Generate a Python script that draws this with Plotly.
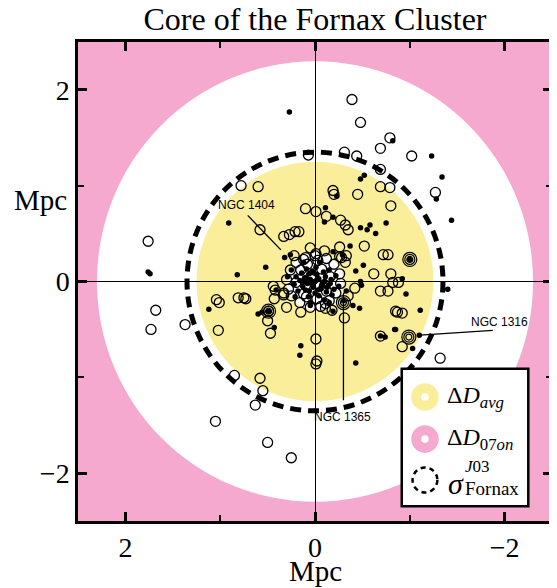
import plotly.graph_objects as go

# ---------------- data (Mpc) ----------------
open_x = [-0.39, -0.48, -0.79, -0.69, -0.31, 0.07, -0.44, -0.45, -0.69, -0.69, -0.79, 0.78, 0.60, -0.19, -0.20,
          -1.02, -1.27, 1.76, 1.68, 1.73, 1.37, 1.04, 1.01, 0.81, 1.02,
          0.10, -0.01, -0.12, -0.27, -0.32, -0.35, -0.80, 0.58, 0.33, 0.27, 0.21, 0.17, -0.26, -0.52, -0.33, -0.26,
          -0.72, -0.77, -0.62, -0.80, -0.01, 0.12, 0.44, 0.42, 0.75, 0.73, 0.43, 0.33, 0.30, 0.49, 0.50, 0.47,
          -0.01, -0.02, -0.31, -0.42, -0.69, -0.77, -0.82, -0.32, -0.11, -0.11, 0.09, -0.85, -0.69,
          -0.88, -0.92, -0.87, -0.92, -1.32, 1.05, 0.85, 0.58, 0.55, 0.63, 0.50, 0.25, -0.01,
          0.0, 0.10, 0.20, 0.26, 0.30, 0.28, 0.25, 0.16, 0.05, -0.06, -0.15, -0.22, -0.27, -0.26, -0.20, -0.12,
          -0.03, 0.08, 0.15, 0.20, 0.12, -0.02, -0.12, -0.16, -0.07, 0.04, 0.10, -0.05, 0.22, -0.28, 0.33, -0.35,
          0.05, -0.18, 0.15, -0.10]
open_y = [1.90, 1.66, 1.50, 1.39, 1.35, 1.32, 1.31, 0.91, 1.17, 0.99, 0.98, 1.00, 0.99, 0.95, 0.91,
          1.31, 0.93, 0.42, -0.30, -0.50, -0.45, -0.19, -0.22, -0.17, -0.51,
          0.76, 0.73, 0.68, 0.64, 0.59, 0.54, 0.79, 0.54, 0.47, 0.49, 0.52, 0.52, 0.36, 0.37, 0.27, 0.26,
          0.28, 0.28, 0.08, 0.08, 0.29, 0.23, -0.05, -0.09, -0.17, -0.18, -0.18, -0.14, -0.27, -0.31, -0.41, -0.54,
          -0.60, -0.83, -0.38, -0.07, -0.10, -0.10, -0.01, 0.20, -0.28, -0.23, -0.16, -0.31, -0.57,
          -0.01, -0.33, -0.32, -0.68, -0.80, -1.46, -0.98, -1.01, -1.14, -1.29, -1.68, -1.84, -0.86,
          0.27, 0.25, 0.20, 0.12, 0.02, -0.08, -0.15, -0.22, -0.27, -0.26, -0.20, -0.12, -0.02, 0.08, 0.18, 0.24,
          0.22, 0.18, 0.12, -0.01, -0.13, -0.18, -0.10, 0.05, 0.13, 0.06, -0.04, -0.05, 0.27, 0.25, -0.12, -0.15,
          0.35, -0.30, -0.32, 0.32]

filled_x = [0.27, -0.52, -0.48, -0.23, -0.82, -1.23, -1.34, -1.28,
            0.91, 1.74, 1.76, 0.82, 1.12,
            -0.11, -0.10, -0.19, -0.48, -0.58, -0.55, -0.64, -0.75, -0.37, -0.19, -0.29, -0.51, -0.43,
            0.26, 0.32, 0.52, 0.41, 0.49, 0.60, 0.56, 0.43, 0.15, 0.16, -0.40, -0.47, -0.33, -0.49, -0.48,
            -0.19, 0.05, 0.21, -0.74, -0.84, -0.69,
            -1.44, -1.00, -0.92, -1.40, -0.96, -1.11, -0.85, -1.10, -1.03, -0.43,
            0.0, 0.05, -0.04, 0.08, -0.08, 0.02, -0.02, 0.11, -0.11, 0.06, -0.06, 0.13, -0.14, 0.03, -0.09, 0.10,
            -0.12, -0.17, 0.16, 0.0, -0.20, -0.04, 0.09, -0.15, 0.18, -0.22, 0.14, -0.18, 0.20, -0.01, 0.07, -0.10,
            0.22, 0.25, 0.29, -0.25, 0.05, -0.05, 0.12, -0.15, -0.30,
            0.03, -0.07, 0.09, -0.13, 0.01, -0.03, 0.06, -0.10, 0.12, -0.16]
filled_y = [1.77, 1.11, 1.07, 0.89, 1.47, 1.31, 1.09, 0.86,
            0.61, 0.08, 0.10, 0.07, -0.29,
            0.77, 0.62, 0.67, 0.56, 0.59, 0.54, 0.50, 0.61, 0.37, 0.31, 0.28, 0.17, 0.11,
            0.28, 0.25, 0.15, -0.09, -0.31, -0.34, -0.32, -0.48, -0.67, -0.77, -0.25, -0.28, -0.10, -0.04, 0.00,
            -0.31, -0.22, -0.16, -0.58, -0.50, -0.57,
            0.64, 0.23, 0.03, -0.08, -0.13, -0.30, -0.50, -0.56, -0.70, -0.85,
            0.0, 0.02, 0.03, -0.02, -0.01, -0.06, 0.07, 0.04, 0.05, 0.08, -0.07, -0.05, -0.04, 0.11, 0.10, -0.09,
            -0.11, 0.02, 0.01, -0.12, -0.08, -0.15, 0.13, 0.12, -0.10, 0.06, 0.09, -0.14, 0.05, 0.15, -0.16, -0.19,
            -0.03, 0.12, 0.05, -0.05, -0.25, 0.20, 0.20, -0.22, -0.20,
            -0.03, -0.04, 0.04, -0.06, 0.09, -0.09, -0.10, 0.00, 0.00, -0.02]

# galaxies drawn as nested rings
ring_x = [-0.30, -0.99, -1.00, 0.49]
ring_y = [-0.22, -0.58, 0.23, -0.31]

# radii (Mpc) of the shaded zones
r_outer_white = 2.30     # edge of Delta D_07on zone
r_yellow = 1.25          # Delta D_avg
r_inner_white = 0.30
r_sigma = 1.35           # sigma_Fornax J03

# labelled galaxies: label position and pointer
ngc_names = ["NGC 1404", "NGC 1365", "NGC 1316"]
ngc_label_x = [0.72, -0.29, -1.95]
ngc_label_y = [0.80, -1.41, -0.42]
ngc_line_x0 = [0.71, -0.30, -1.875]
ngc_line_y0 = [0.69, -1.24, -0.51]
ngc_line_x1 = [0.36, -0.30, -1.11]
ngc_line_y1 = [0.33, -0.22, -0.56]

major_ticks = [-2, 0, 2]
major_text = ["\u22122", "0", "2"]
minor_ticks = [-1, 1]

PINK = "#F6A9CF"
YELLOW = "#FAEE9B"
SERIF = "Liberation Serif, Times New Roman, serif"

W, H = 549, 580   # page body adds an 8px offset
PW, PH = 477.0, 479.0

fig = go.Figure()

fig.add_trace(go.Scatter(x=open_x, y=open_y, mode="markers",
                         marker=dict(symbol="circle-open", size=10, color="black",
                                     line=dict(width=1.3, color="black")),
                         showlegend=False, hoverinfo="skip"))
fig.add_trace(go.Scatter(x=filled_x, y=filled_y, mode="markers",
                         marker=dict(symbol="circle", size=5.5, color="black"),
                         showlegend=False, hoverinfo="skip"))
for s in [6, 10, 14]:
    fig.add_trace(go.Scatter(x=ring_x, y=ring_y, mode="markers",
                             marker=dict(symbol="circle-open", size=s, color="black",
                                         line=dict(width=1.2, color="black")),
                             showlegend=False, hoverinfo="skip"))

shapes = []
def circ(r, **kw):
    d = dict(type="circle", xref="x", yref="y", x0=-r, x1=r, y0=-r, y1=r, layer="below")
    d.update(kw)
    return d

shapes.append(circ(r_outer_white, fillcolor="white", line=dict(width=0)))
shapes.append(circ(r_yellow, fillcolor=YELLOW, line=dict(width=0)))
shapes.append(circ(r_inner_white, fillcolor="white", line=dict(width=0)))
shapes.append(circ(r_sigma, fillcolor="rgba(0,0,0,0)", layer="between",
                   line=dict(width=5, color="black", dash="11px,7px")))

for i in range(3):
    shapes.append(dict(type="line", xref="x", yref="y", x0=ngc_line_x0[i], y0=ngc_line_y0[i],
                       x1=ngc_line_x1[i], y1=ngc_line_y1[i], line=dict(color="black", width=1.3),
                       layer="above"))

# legend box (paper coords)
shapes.append(dict(type="rect", xref="paper", yref="paper", x0=0.683, x1=0.950, y0=0.031, y1=0.318,
                   fillcolor="white", line=dict(color="black", width=2.5), layer="above"))
def pcirc(cx, cy, rpx, **kw):
    rx = rpx / PW
    ry = rpx / PH
    d = dict(type="circle", xref="paper", yref="paper", x0=cx - rx, x1=cx + rx, y0=cy - ry, y1=cy + ry,
             layer="above")
    d.update(kw)
    return d
shapes.append(pcirc(0.732, 0.259, 8.8, fillcolor="white", line=dict(color=YELLOW, width=10)))
shapes.append(pcirc(0.732, 0.171, 8.8, fillcolor="white", line=dict(color=PINK, width=10)))
shapes.append(pcirc(0.732, 0.0856, 12.5, fillcolor="white", line=dict(color="black", width=2.5, dash="5px,4px")))

annotations = []
for i in range(3):
    annotations.append(dict(x=ngc_label_x[i], y=ngc_label_y[i], xref="x", yref="y", text=ngc_names[i],
                            showarrow=False, font=dict(family="Liberation Sans, Arial, sans-serif", size=12,
                                                       color="black"),
                            xanchor="center", yanchor="middle"))

leg_font = dict(family=SERIF, size=24, color="black")
annotations.append(dict(x=0.775, y=0.259, xref="paper", yref="paper", showarrow=False,
                        text="\u0394<i>D</i><sub><i>avg</i></sub>", font=leg_font,
                        xanchor="left", yanchor="middle"))
annotations.append(dict(x=0.775, y=0.171, xref="paper", yref="paper", showarrow=False,
                        text="\u0394<i>D</i><sub>07<i>on</i></sub>", font=leg_font,
                        xanchor="left", yanchor="middle"))
annotations.append(dict(x=0.776, y=0.078, xref="paper", yref="paper", showarrow=False,
                        text="<i>\u03c3</i>", font=dict(family=SERIF, size=30, color="black"),
                        xanchor="left", yanchor="middle"))
annotations.append(dict(x=0.813, y=0.113, xref="paper", yref="paper", showarrow=False,
                        text="<i>J</i>03", font=dict(family=SERIF, size=17, color="black"),
                        xanchor="left", yanchor="middle"))
annotations.append(dict(x=0.813, y=0.067, xref="paper", yref="paper", showarrow=False,
                        text="Fornax", font=dict(family=SERIF, size=19, color="black"),
                        xanchor="left", yanchor="middle"))
# axis titles
annotations.append(dict(x=-0.08, y=0.67, xref="paper", yref="paper", showarrow=False, text="Mpc",
                        font=dict(family=SERIF, size=29, color="black"), xanchor="center", yanchor="middle"))
annotations.append(dict(x=0.5, y=-0.105, xref="paper", yref="paper", showarrow=False, text="Mpc",
                        font=dict(family=SERIF, size=29, color="black"), xanchor="center", yanchor="middle"))

axis_common = dict(showgrid=False, zeroline=True, zerolinecolor="black", zerolinewidth=1,
                   showline=True, linecolor="black", linewidth=2.5, mirror="allticks",
                   ticks="inside", ticklen=9, tickwidth=2.5, tickcolor="black",
                   tickmode="array", tickvals=major_ticks, ticktext=major_text,
                   minor=dict(tickmode="array", tickvals=minor_ticks, ticks="inside", ticklen=6,
                              tickwidth=2, tickcolor="black", showgrid=False),
                   tickfont=dict(family=SERIF, size=28, color="black"), fixedrange=True)

fig.update_layout(
    width=W, height=H,
    margin=dict(l=70, r=2, t=34, b=67),
    paper_bgcolor="white", plot_bgcolor=PINK,
    title=dict(text="Core of the Fornax Cluster", x=0.5, xref="paper", xanchor="center",
               y=1 - 11 / H, yref="container", yanchor="middle",
               font=dict(family=SERIF, size=32, color="black")),
    xaxis=dict(range=[2.5, -2.5], **axis_common),
    yaxis=dict(range=[-2.5, 2.5], **axis_common),
    shapes=shapes, annotations=annotations, showlegend=False,
)

fig.write_html("out.html")
